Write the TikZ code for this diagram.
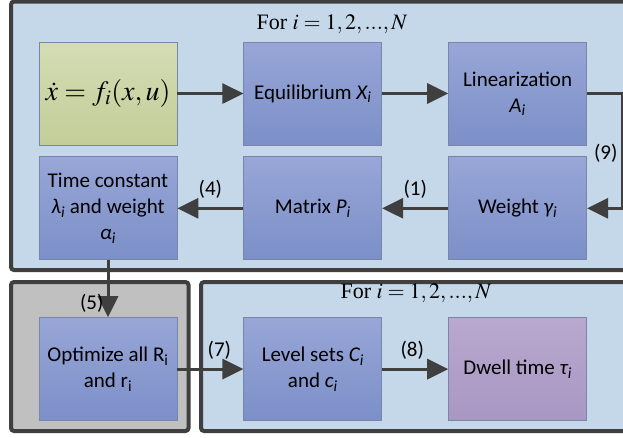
\documentclass[tikz,border=0pt]{standalone}
\usepackage{mathptmx}
\usepackage{fontspec}
\setmainfont{Liberation Serif}
\newfontfamily\boxfont{Carlito}
\usepackage{xcolor}
\usetikzlibrary{arrows.meta,positioning}

\definecolor{bgblue}{HTML}{C5D8E9}
\definecolor{framegray}{HTML}{C0C0C0}
\definecolor{framedark}{HTML}{3F3F3F}
\definecolor{boxline}{HTML}{7A86A8}
\definecolor{boxtop}{HTML}{98A6D7}
\definecolor{boxbot}{HTML}{7C8FC8}
\definecolor{eqtop}{HTML}{D4DDB4}
\definecolor{eqbot}{HTML}{C3CD98}
\definecolor{dwtop}{HTML}{B9A9D0}
\definecolor{dwbot}{HTML}{A797C2}

\begin{document}
\begin{tikzpicture}[
    x=1pt, y=-1pt,
    node distance=11pt and 66pt,
    box/.style={draw=boxline, line width=0.8pt, minimum width=138pt, minimum height=103pt, inner sep=2pt, align=center, top color=boxtop, bottom color=boxbot, font=\boxfont\fontsize{21}{26}\selectfont},
    eqbox/.style={box, top color=eqtop, bottom color=eqbot, font=\fontsize{28}{30}\selectfont},
    dwbox/.style={box, top color=dwtop, bottom color=dwbot},
    frame/.style={draw=framedark, line width=4pt, rounded corners=3pt},
    title/.style={font=\fontsize{22}{24}\selectfont, inner sep=0pt},
    lbl/.style={font=\boxfont\fontsize{21}{24}\selectfont, inner sep=2pt},
    arr/.style={-{Triangle[length=21pt,width=20pt]}, line width=3pt, draw=framedark}
  ]
    \useasboundingbox (0,0) rectangle (623,437);

    % frames
    \draw[frame, fill=bgblue] (11,1.5) rectangle (640,270);
    \draw[frame, fill=framegray] (11,282) rectangle (188.5,431);
    \draw[frame, fill=bgblue] (201,282) rectangle (640,431);

    \node[title] (t1) at (332,24) {For $i=1,2,...,N$};
    \node[title] (t2) at (416,293) {For $i=1,2,...,N$};

    % first loop
    \node[eqbox] (sys) at (108,93.5) {$\dot{x}=f_i(x,u)$};
    \node[box, right=of sys] (equ) {Equilibrium \textit{X\textsubscript{i}}};
    \node[box, right=of equ] (lin) {Linearization\\ \textit{A\textsubscript{i}}};

    \node[box, below=of lin] (wgt) {Weight \textit{γ\textsubscript{i}}};
    \node[box, below=of equ] (mat) {Matrix \textit{P\textsubscript{i}}};
    \node[box, below=of sys] (tim) {Time constant\\ \textit{λ\textsubscript{i}} and weight\\ \textit{α\textsubscript{i}}};

    % second part
    \node[box, below=57pt of tim] (opt) {Optimize all R\textsubscript{i}\\ and r\textsubscript{i}};
    \node[box, right=of opt] (lev) {Level sets \textit{C\textsubscript{i}}\\ and \textit{c\textsubscript{i}}};
    \node[dwbox, right=of lev] (dwl) {Dwell time \textit{τ\textsubscript{i}}};

    \draw[arr] (sys) -- (equ);
    \draw[arr] (equ) -- (lin);
    \draw[arr] (lin.east) -- ++(35,0) |- node[lbl, pos=0.26, left=1pt] {(9)} (wgt.east);
    \draw[arr] (wgt) -- node[lbl, above=6pt] {(1)} (mat);
    \draw[arr] (mat) -- node[lbl, above=6pt] {(4)} (tim);
    \draw[arr] (tim) -- node[lbl, pos=0.75, left=1pt] {(5)} (opt);
    \draw[arr] (opt) -- node[lbl, above=6pt, xshift=9pt] {(7)} (lev);
    \draw[arr] (lev) -- node[lbl, above=6pt, xshift=-3pt] {(8)} (dwl);
  \end{tikzpicture}
\end{document}
